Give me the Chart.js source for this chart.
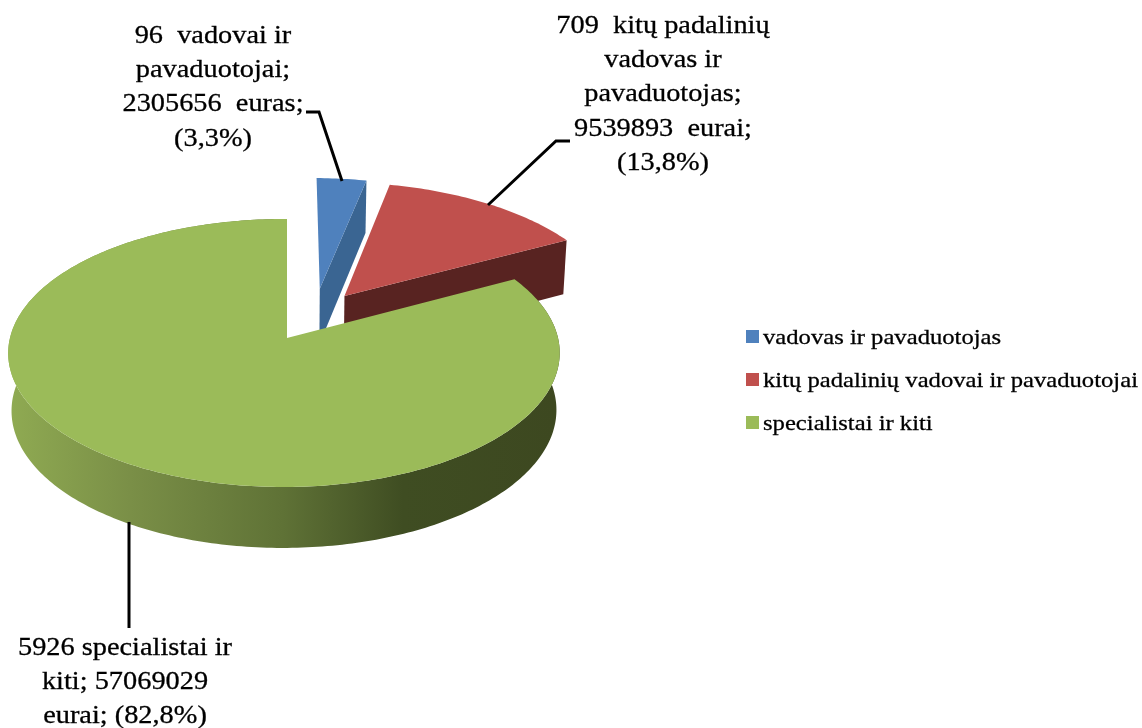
<!DOCTYPE html>
<html>
<head>
<meta charset="utf-8">
<style>
body { margin: 0; background: #fff; }
canvas { display: block; }
</style>
<script src="https://cdn.jsdelivr.net/npm/chart.js@4"></script>
</head>
<body>
<canvas id="myChart" width="1142" height="728"></canvas>
<script>
const categories = ['vadovas ir pavaduotojas', 'kitų padalinių vadovai ir pavaduotojai', 'specialistai ir kiti'];
const euros = [2305656, 9539893, 57069029];
const topColors = ['#4F81BD', '#C0504D', '#9BBB59'];
const sideColors = ['#3A6592', '#582321', '#5C7032'];
const blueLabel = ['96  vadovai ir', 'pavaduotojai;', '2305656  euras;', '(3,3%)'];
const redLabel = ['709  kitų padalinių', 'vadovas ir', 'pavaduotojas;', '9539893  eurai;', '(13,8%)'];
const greenLabel = ['5926 specialistai ir', 'kiti; 57069029', 'eurai; (82,8%)'];

// pie plane -> screen, green apex is the origin
const view = { cx: 287, cy: 338, a: 274, b: 132.3, p: 0.112, q: -0.011, depth: 57 };
// how far each slice is pulled out of the pie (in pie radii), and its radius
const explode = [[0.125, -0.39, 1.01], [0.218, -0.33, 1.03], [0, 0, 1]];

function project(x, y, z) {
    var w = 1 - view.p * y - view.q * x;
    return [
        view.cx + view.a * x / w * (1 - 0.012 * z),
        view.cy + view.b * y / w + z * view.depth / Math.pow(w, 0.56)
    ];
}

function rimPoints(arc, off, z) {
    var pts = [];
    var n = Math.ceil((arc.endAngle - arc.startAngle) * 60);
    for (var i = 0; i <= n; i++) {
        var t = arc.startAngle + (arc.endAngle - arc.startAngle) * i / n;
        pts.push(project(off[0] + off[2] * Math.cos(t), off[1] + off[2] * Math.sin(t), z));
    }
    return pts;
}

function fillPoly(ctx, pts, color) {
    ctx.beginPath();
    pts.forEach(function (p, i) {
        if (i == 0) ctx.moveTo(p[0], p[1]);
        else ctx.lineTo(p[0], p[1]);
    });
    ctx.closePath();
    ctx.fillStyle = color;
    ctx.fill();
}

// the reference text is stretched sideways and a bit heavy
function wideText(ctx, s, x, y, stretch) {
    ctx.save();
    ctx.translate(x, y);
    ctx.scale(stretch, 1);
    ctx.fillStyle = '#000';
    ctx.strokeStyle = '#000';
    ctx.lineWidth = 0.3;
    ctx.fillText(s, 0, 0);
    ctx.strokeText(s, 0, 0);
    ctx.restore();
}

function drawLines(ctx, lines, x, y, step) {
    ctx.textAlign = 'center';
    ctx.textBaseline = 'alphabetic';
    lines.forEach(function (s, i) {
        wideText(ctx, s, x, y + i * step, 1.09);
    });
}

function drawLeader(ctx, pts, width) {
    ctx.beginPath();
    pts.forEach(function (p, i) {
        if (i == 0) ctx.moveTo(p[0], p[1]);
        else ctx.lineTo(p[0], p[1]);
    });
    ctx.strokeStyle = '#000';
    ctx.lineWidth = width;
    ctx.stroke();
}

// Chart.js only does flat pies, so the arcs it computed get drawn tilted here
const tiltedPie = {
    id: 'tiltedPie',
    beforeDatasetDraw(chart) {
        var ctx = chart.ctx;
        chart.getDatasetMeta(0).data.forEach(function (arc, i) {
            var off = explode[i];
            var top = rimPoints(arc, off, 0);
            var apex = project(off[0], off[1], 0);
            var apexLow = project(off[0], off[1], 1);
            if (i == 2) {
                // green: outer wall, shaded left to right
                var low = rimPoints(arc, off, 1).reverse();
                var grad = ctx.createLinearGradient(10, 0, 556, 0);
                grad.addColorStop(0, '#8FAA52');
                grad.addColorStop(0.22, '#7A8F47');
                grad.addColorStop(0.5, '#5F7236');
                grad.addColorStop(0.72, '#3F4D22');
                grad.addColorStop(1, '#3D4820');
                fillPoly(ctx, top.concat(low), grad);
            } else {
                // blue and red: only the cut face at the end angle shows
                var endTop = top[top.length - 1];
                var endLow = rimPoints(arc, off, 1).pop();
                fillPoly(ctx, [apex, endTop, endLow, apexLow], sideColors[i]);
            }
            fillPoly(ctx, [apex].concat(top), arc.options.backgroundColor);
        });
        return false;
    },
    afterDraw(chart) {
        var ctx = chart.ctx;
        drawLeader(ctx, [[306, 112], [319, 112], [342, 181]], 3);
        drawLeader(ctx, [[570, 141], [556, 141], [488, 205]], 3);
        drawLeader(ctx, [[129, 522], [129, 628]], 3);

        ctx.font = '26px "Liberation Serif"';
        drawLines(ctx, blueLabel, 213, 43, 34.2);
        drawLines(ctx, redLabel, 663, 33, 34.2);
        drawLines(ctx, greenLabel, 125, 655, 34);

        // legend
        ctx.font = '22px "Liberation Serif"';
        ctx.textAlign = 'left';
        categories.forEach(function (s, i) {
            var y = 330 + i * 43;
            ctx.fillStyle = topColors[i];
            ctx.fillRect(746, y, 13, 13);
            wideText(ctx, s, 763, y + 14, 1.12);
        });
    }
};

new Chart(document.getElementById('myChart'), {
    type: 'pie',
    data: {
        labels: categories,
        datasets: [{
            data: euros,
            backgroundColor: topColors
        }]
    },
    options: {
        responsive: false,
        animation: false,
        plugins: {
            legend: { display: false },
            tooltip: { enabled: false }
        }
    },
    plugins: [tiltedPie]
});
</script>
</body>
</html>
